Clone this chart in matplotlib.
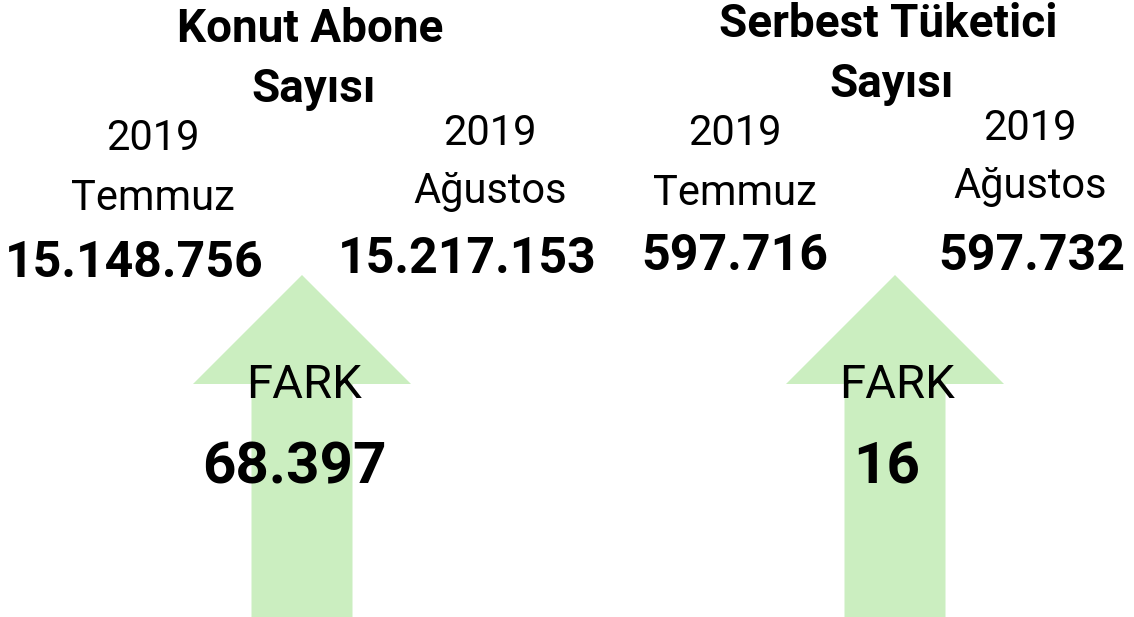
import matplotlib
matplotlib.use('Agg')
from matplotlib import pyplot as plt
from matplotlib.patches import FancyArrow

plt.rcParams['font.family'] = ['Roboto', 'DejaVu Sans']

titles = ['Konut Abone\nSayısı', 'Serbest Tüketici\nSayısı']
months = ['2019\nTemmuz', '2019\nAğustos']
temmuz = [15148756, 597716]
agustos = [15217153, 597732]
fark = [68397, 16]

arrow_color = '#cbeec0'


def fmt(v):
    return '{:,}'.format(v).replace(',', '.')


fig = plt.figure(figsize=(11.34, 6.17), dpi=100)
ax = fig.add_axes([0, 0, 1, 1])
ax.set_xlim(0, 1134)
ax.set_ylim(617, 0)
ax.axis('off')

# pixel layout of the two panels
panels = [
    dict(title=(310, 42), arrow_x=302, left_x=153, right_x=490, left_num=134, right_num=467,
         left_y=0, right_y=-5),
    dict(title=(888, 37), arrow_x=895, left_x=735, right_x=1030, left_num=735, right_num=1032,
         left_y=-5, right_y=-10),
]

for i, p in enumerate(panels):
    t1, t2 = titles[i].split('\n')
    ax.text(p['title'][0], p['title'][1], t1, ha='center', va='baseline',
            fontsize=33, fontweight='bold')
    ax.text(p['title'][0] + 4, p['title'][1] + 60, t2, ha='center', va='baseline',
            fontsize=33, fontweight='bold')

    m1, m2 = months[0].split('\n')
    ax.text(p['left_x'], 150 + p['left_y'], m1, ha='center', va='baseline', fontsize=30)
    ax.text(p['left_x'], 210 + p['left_y'], m2, ha='center', va='baseline', fontsize=30)
    m1, m2 = months[1].split('\n')
    ax.text(p['right_x'], 145 + p['right_y'] + 5, m1, ha='center', va='baseline', fontsize=30)
    ax.text(p['right_x'], 203 + p['right_y'] + 5, m2, ha='center', va='baseline', fontsize=30)

    ax.text(p['left_num'], 277 + (p['left_y'] * 1.4), fmt(temmuz[i]), ha='center',
            va='baseline', fontsize=36, fontweight='bold')
    ax.text(p['right_num'], 276 + (p['right_y'] * 0.6), fmt(agustos[i]), ha='center',
            va='baseline', fontsize=36, fontweight='bold')

    arr = FancyArrow(p['arrow_x'], 617, 0, -342, width=101, head_width=218,
                     head_length=109, length_includes_head=True,
                     color=arrow_color, lw=0, zorder=0)
    ax.add_patch(arr)

    ax.text(p['arrow_x'] + 2, 398, 'FARK', ha='center', va='baseline', fontsize=34)
    ax.text(p['arrow_x'] - 8, 484, fmt(fark[i]), ha='center', va='baseline',
            fontsize=42, fontweight='bold')

fig.savefig('out.png', dpi=100, facecolor='white')
